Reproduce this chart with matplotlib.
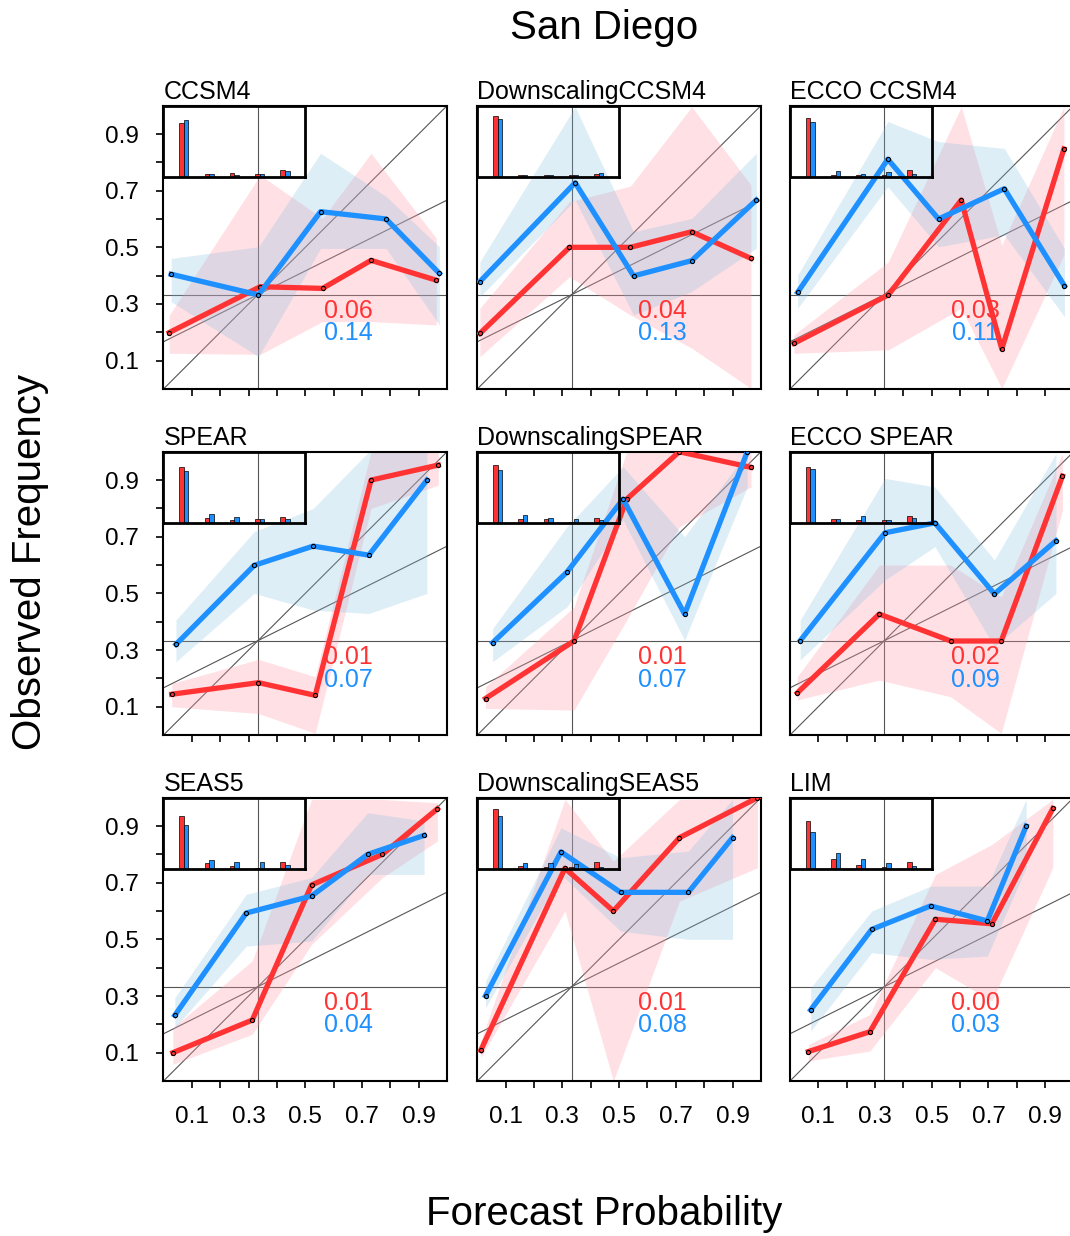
import numpy as np
import matplotlib
matplotlib.use('Agg')
import matplotlib.pyplot as plt

plt.rcParams['font.family'] = ['Liberation Sans', 'DejaVu Sans']

models = ['CCSM4', 'DownscalingCCSM4', 'ECCO CCSM4',
          'SPEAR', 'DownscalingSPEAR', 'ECCO SPEAR',
          'SEAS5', 'DownscalingSEAS5', 'LIM']
score_red = ['0.06', '0.04', '0.03', '0.01', '0.01', '0.02', '0.01', '0.01', '0.00']
score_blue = ['0.14', '0.13', '0.11', '0.07', '0.07', '0.09', '0.04', '0.08', '0.03']

# reliability curves (mean forecast prob, observed freq) per panel
red_x = [
    [0.020, 0.341, 0.561, 0.732, 0.962],
    [0.009, 0.325, 0.540, 0.756, 0.965],
    [0.014, 0.347, 0.604, 0.747, 0.966],
    [0.029, 0.335, 0.535, 0.732, 0.969],
    [0.029, 0.341, 0.527, 0.712, 0.965],
    [0.026, 0.315, 0.567, 0.745, 0.961],
    [0.033, 0.313, 0.522, 0.772, 0.966],
    [0.012, 0.309, 0.480, 0.713, 0.988],
    [0.065, 0.282, 0.513, 0.712, 0.927],
]
red_y = [
    [0.199, 0.361, 0.355, 0.454, 0.384],
    [0.196, 0.500, 0.500, 0.555, 0.461],
    [0.161, 0.332, 0.667, 0.141, 0.847],
    [0.144, 0.185, 0.140, 0.900, 0.953],
    [0.129, 0.332, 0.833, 1.000, 0.945],
    [0.149, 0.427, 0.332, 0.332, 0.914],
    [0.100, 0.215, 0.692, 0.800, 0.961],
    [0.108, 0.751, 0.600, 0.859, 1.000],
    [0.104, 0.174, 0.571, 0.555, 0.962],
]
red_lo = [
    [0.126, 0.122, 0.238, 0.238, 0.226],
    [0.114, 0.396, 0.261, 0.144, 0.002],
    [0.126, 0.138, 0.285, 0.002, 0.473],
    [0.100, 0.076, 0.006, 0.800, 0.882],
    [0.094, 0.088, 0.406, 0.735, 0.876],
    [0.124, 0.194, 0.135, 0.006, 0.794],
    [0.059, 0.165, 0.482, 0.718, 0.847],
    [0.082, 0.600, 0.000, 0.635, 0.753],
    [0.071, 0.106, 0.400, 0.282, 0.753],
]
red_hi = [
    [0.260, 0.755, 0.602, 0.832, 0.532],
    [0.285, 0.661, 0.716, 0.996, 0.720],
    [0.191, 0.449, 0.996, 0.508, 0.996],
    [0.182, 0.267, 0.206, 1.000, 1.000],
    [0.171, 0.452, 1.000, 1.000, 1.000],
    [0.206, 0.600, 0.600, 0.488, 0.994],
    [0.188, 0.424, 0.994, 0.994, 0.982],
    [0.141, 0.994, 0.776, 0.994, 1.000],
    [0.129, 0.235, 0.729, 0.835, 0.994],
]
blue_x = [
    [0.027, 0.335, 0.554, 0.785, 0.973],
    [0.009, 0.345, 0.551, 0.756, 0.984],
    [0.027, 0.345, 0.524, 0.756, 0.968],
    [0.044, 0.320, 0.528, 0.724, 0.929],
    [0.054, 0.316, 0.514, 0.731, 0.952],
    [0.036, 0.335, 0.511, 0.721, 0.938],
    [0.040, 0.292, 0.522, 0.720, 0.919],
    [0.029, 0.295, 0.505, 0.744, 0.900],
    [0.073, 0.288, 0.496, 0.696, 0.833],
]
blue_y = [
    [0.405, 0.332, 0.626, 0.600, 0.408],
    [0.379, 0.728, 0.399, 0.453, 0.667],
    [0.341, 0.811, 0.600, 0.707, 0.364],
    [0.320, 0.599, 0.667, 0.635, 0.900],
    [0.326, 0.575, 0.833, 0.427, 1.000],
    [0.333, 0.714, 0.749, 0.498, 0.686],
    [0.232, 0.593, 0.653, 0.800, 0.867],
    [0.301, 0.809, 0.666, 0.666, 0.859],
    [0.251, 0.535, 0.618, 0.565, 0.900],
]
blue_lo = [
    [0.308, 0.114, 0.496, 0.496, 0.226],
    [0.326, 0.667, 0.261, 0.344, 0.497],
    [0.285, 0.714, 0.502, 0.544, 0.255],
    [0.259, 0.500, 0.441, 0.429, 0.500],
    [0.259, 0.453, 0.759, 0.335, 0.876],
    [0.265, 0.547, 0.665, 0.312, 0.500],
    [0.188, 0.476, 0.494, 0.729, 0.729],
    [0.259, 0.729, 0.529, 0.500, 0.500],
    [0.176, 0.453, 0.429, 0.441, 0.753],
]
blue_hi = [
    [0.461, 0.502, 0.832, 0.680, 0.502],
    [0.449, 0.996, 0.555, 0.602, 0.832],
    [0.402, 0.944, 0.873, 0.849, 0.496],
    [0.406, 0.718, 0.800, 1.000, 1.000],
    [0.376, 0.735, 0.947, 0.700, 1.000],
    [0.406, 0.906, 0.876, 0.618, 0.994],
    [0.294, 0.659, 0.718, 0.947, 0.918],
    [0.353, 0.894, 0.788, 0.812, 0.994],
    [0.329, 0.600, 0.688, 0.688, 0.994],
]

# forecast frequency per bin (inset histograms)
hist_red = [
    [0.757, 0.029, 0.048, 0.033, 0.095],
    [0.850, 0.015, 0.024, 0.020, 0.038],
    [0.819, 0.024, 0.019, 0.019, 0.095],
    [0.789, 0.061, 0.033, 0.047, 0.085],
    [0.812, 0.056, 0.047, 0.009, 0.070],
    [0.779, 0.056, 0.038, 0.038, 0.094],
    [0.738, 0.081, 0.038, 0.010, 0.095],
    [0.843, 0.033, 0.019, 0.019, 0.095],
    [0.667, 0.129, 0.048, 0.024, 0.095],
]
hist_blue = [
    [0.795, 0.038, 0.024, 0.033, 0.076],
    [0.817, 0.024, 0.024, 0.024, 0.048],
    [0.771, 0.076, 0.033, 0.057, 0.038],
    [0.728, 0.117, 0.075, 0.047, 0.047],
    [0.742, 0.103, 0.070, 0.052, 0.033],
    [0.751, 0.056, 0.099, 0.042, 0.066],
    [0.610, 0.119, 0.095, 0.086, 0.048],
    [0.748, 0.081, 0.081, 0.062, 0.019],
    [0.514, 0.214, 0.129, 0.081, 0.029],
]

RED = '#ff3333'
BLUE = '#1e90ff'
GREY = '#555555'

ticks = np.round(np.arange(0.1, 1.0, 0.1), 1)
tick_labels = ['%.1f' % t if i % 2 == 0 else '' for i, t in enumerate(ticks)]

fig = plt.figure(figsize=(10.7, 12.36), dpi=100)
lefts = [0.1528, 0.4461, 0.7383]
bottoms = [0.6853, 0.4053, 0.1254]
w, h = 0.265, 0.2292

for i, name in enumerate(models):
    r, c = divmod(i, 3)
    ax = fig.add_axes([lefts[c], bottoms[r], w, h])
    ax.set_xlim(0, 1)
    ax.set_ylim(0, 1)

    xx = np.array([0.0, 1.0])
    ax.plot(xx, xx, color=GREY, lw=0.8, zorder=1)
    ax.plot(xx, 1/3 + 0.5 * (xx - 1/3), color=GREY, lw=0.8, zorder=1)
    ax.axhline(1/3, color=GREY, lw=0.8, zorder=1)
    ax.axvline(1/3, color=GREY, lw=0.8, zorder=1)

    ax.fill_between(red_x[i], red_lo[i], red_hi[i], color='#ff9aaa', alpha=0.3, lw=0, zorder=1.2)
    ax.fill_between(blue_x[i], blue_lo[i], blue_hi[i], color='#7fbcdf', alpha=0.25, lw=0, zorder=1.3)

    ax.text(0.653, 0.276, score_red[i], color=RED, fontsize=18, ha='center', va='center',
            transform=ax.transAxes, zorder=1.5)
    ax.text(0.653, 0.196, score_blue[i], color=BLUE, fontsize=18, ha='center', va='center',
            transform=ax.transAxes, zorder=1.5)

    ax.plot(red_x[i], red_y[i], color=RED, lw=3.8, marker='o', ms=3, mfc=RED,
            mec='black', mew=0.8, zorder=4)
    ax.plot(blue_x[i], blue_y[i], color=BLUE, lw=3.8, marker='o', ms=3, mfc=BLUE,
            mec='black', mew=0.8, zorder=4)

    ax.set_title(name, loc='left', fontsize=18, pad=5)

    ax.set_xticks(ticks)
    ax.set_yticks(ticks)
    ax.set_xticklabels(tick_labels if r == 2 else [''] * len(ticks))
    ax.set_yticklabels(tick_labels)
    ax.tick_params(direction='out', length=5, width=1.2, labelsize=17.5, pad=13)
    if c != 0:
        ax.tick_params(axis='y', left=False, labelleft=False)
    for s in ax.spines.values():
        s.set_linewidth(1.5)

    ins = ax.inset_axes([0, 0.75, 0.5, 0.25])
    ins.set_facecolor('none')
    pos = np.arange(1, 6)
    ins.bar(pos - 0.09, hist_red[i], width=0.18, color=RED, edgecolor='black', lw=0.5)
    ins.bar(pos + 0.09, hist_blue[i], width=0.18, color=BLUE, edgecolor='black', lw=0.5)
    ins.set_xlim(0.2, 5.8)
    ins.set_ylim(0, 1)
    ins.set_xticks([])
    ins.set_yticks([])
    for s in ins.spines.values():
        s.set_linewidth(2)

fig.text(0.565, 0.977, 'San Diego', fontsize=29, ha='center', va='center')
fig.text(0.5645, 0.018, 'Forecast Probability', fontsize=29, ha='center', va='center')
fig.text(0.028, 0.545, 'Observed Frequency', fontsize=29, ha='center', va='center', rotation=90)

fig.savefig('out.png', dpi=100)
